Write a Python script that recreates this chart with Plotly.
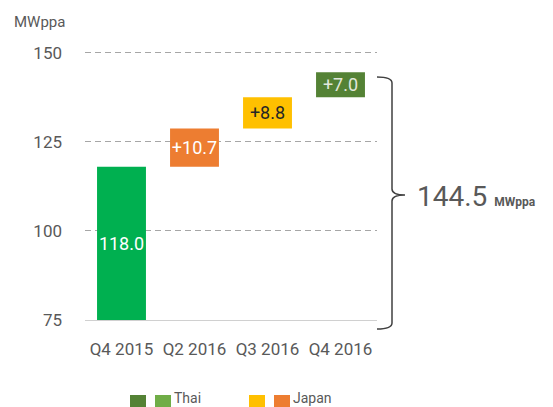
import plotly.graph_objects as go

categories = ["Q4 2015", "Q2 2016", "Q3 2016", "Q4 2016"]
steps = [118.0, 10.7, 8.8, 7.0]
labels = ["118.0", "+10.7", "+8.8", "+7.0"]
bar_colors = ["#00B050", "#ED7D31", "#FFC000", "#548235"]
text_colors = ["#FFFFFF", "#FFFFFF", "#262626", "#E2E8DC"]
y_ticks = [75, 100, 125, 150]
total_label = "144.5"
unit = "MWppa"
legend_groups = [("Thai", ["#548235", "#70AD47"]), ("Japan", ["#FFC000", "#ED7D31"])]

axis_min = 75
# waterfall bases
bases = []
heights = []
cum = 0.0
for i, s in enumerate(steps):
    if i == 0:
        bases.append(axis_min)
        heights.append(s - axis_min)
        cum = s
    else:
        bases.append(cum)
        heights.append(s)
        cum += s

OFF = 8  # page body margin
W, H = 553 - OFF, 407 - OFF
# plot area in screenshot pixels: x 85..377, y 42..320
SX0, SX1, SY0, SY1 = 85, 377, 42, 320
L, T = SX0 - OFF, SY0 - OFF
R, B = W - (SX1 - OFF), H - (SY1 - OFF)
PW, PH = SX1 - SX0, SY1 - SY0

def px(xp):
    return (xp - SX0) / PW

def py(yp):
    return (SY1 - yp) / PH

GRAY = "#595959"
FONT = "Roboto"

fig = go.Figure()
fig.add_trace(go.Bar(
    x=categories, y=heights, base=bases,
    marker=dict(color=bar_colors, line=dict(width=0)),
    text=labels, textposition="inside", insidetextanchor="middle",
    textangle=0, constraintext="none",
    textfont=dict(color=text_colors, size=18, family=FONT),
    hoverinfo="skip", cliponaxis=False, width=0.67,
))

shapes = []
# brace
x0, x1, xt = 377, 392, 405
yt, ym, yb = 77, 195, 329
r = 6
path = (f"M {px(x0)},{py(yt)} Q {px(x1)},{py(yt)} {px(x1)},{py(yt + r)} "
        f"L {px(x1)},{py(ym - r)} Q {px(x1)},{py(ym)} {px(xt)},{py(ym)} "
        f"Q {px(x1)},{py(ym)} {px(x1)},{py(ym + r)} "
        f"L {px(x1)},{py(yb - r)} Q {px(x1)},{py(yb)} {px(x0)},{py(yb)}")
shapes.append(dict(type="path", xref="paper", yref="paper", path=path,
                   line=dict(color="#404040", width=1.5)))

annotations = [
    dict(x=px(12), y=py(22), xref="paper", yref="paper", text=unit,
         showarrow=False, xanchor="left", yanchor="middle",
         font=dict(size=15, color=GRAY, family=FONT)),
    dict(x=px(415), y=py(196), xref="paper", yref="paper",
         text=f"{total_label} <b><span style='font-size:12px'>{unit}</span></b>",
         showarrow=False, xanchor="left", yanchor="middle",
         font=dict(size=28, color=GRAY, family=FONT)),
]

# legend drawn manually
sq = 16
lx = [130, 249]
for (name, cols), start in zip(legend_groups, lx):
    xcur = start
    for c in cols:
        shapes.append(dict(type="rect", xref="paper", yref="paper",
                           x0=px(xcur), x1=px(xcur + sq), y0=py(395), y1=py(395 + sq),
                           fillcolor=c, line=dict(width=0)))
        xcur += sq + 9
    annotations.append(dict(x=px(xcur - 8), y=py(398), xref="paper", yref="paper",
                            text=name, showarrow=False, xanchor="left", yanchor="middle",
                            font=dict(size=14, color=GRAY, family=FONT)))

fig.update_layout(
    width=W, height=H,
    margin=dict(l=L, r=R, t=T, b=B),
    paper_bgcolor="white", plot_bgcolor="white",
    showlegend=False, bargap=0.33,
    font=dict(family=FONT, color=GRAY),
    shapes=shapes, annotations=annotations,
    xaxis=dict(range=[-0.5, 3.5], showgrid=False, showline=True,
               linecolor="#D0D0D0", linewidth=1, ticks="", zeroline=False,
               tickfont=dict(size=17, color=GRAY, family=FONT),
               ticklabelstandoff=14, fixedrange=True),
    yaxis=dict(range=[axis_min, 153], tickvals=y_ticks, showgrid=True,
               gridcolor="#A6A6A6", griddash="6px,4px", gridwidth=1,
               showline=False, zeroline=False, ticks="",
               tickfont=dict(size=17, color=GRAY, family=FONT),
               ticklabelstandoff=22, fixedrange=True),
)

fig.write_html("out.html")
